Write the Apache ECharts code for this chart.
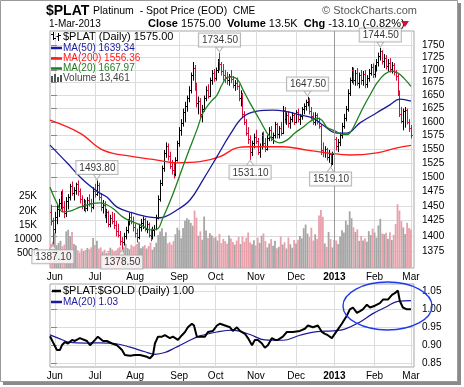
<!DOCTYPE html>
<html><head><meta charset="utf-8">
<script src="https://cdn.jsdelivr.net/npm/echarts@6/dist/echarts.min.js"></script>
<style>html,body{margin:0;padding:0;background:#fff;}#c{width:464px;height:387px;}</style>
</head><body><div id="c"></div>
<script>
// ---------- axis ticks ----------
const monthTicks = [2, 23, 44, 67, 86, 107, 128, 148, 169, 188];
const monthLabels = ['Jun','Jul','Aug','Sep','Oct','Nov','Dec','2013','Feb','Mar'];
const priceTicks = [1375,1400,1425,1450,1475,1500,1525,1550,1575,1600,1625,1650,1675,1700,1725,1750];
const volumeTicks = [5, 10, 15, 20, 25];               // thousands
const volumeTickLabels = ['5000','10000','15K','20K','25K'];
const ratioTicks = [0.85, 0.90, 0.95, 1.00, 1.05];

// ---------- daily OHLC (30-May-2012 .. 1-Mar-2013) ----------
const open = [
1440,1425,1412,1432,1445,1455,1468,1448,1438,1458,1465,1485,1472,1478,1488,1475,1462,1450,1455,1446,1460,1455,1448,
1476,1470,1486,1465,1448,1452,1435,1440,1420,1430,1425,1418,1408,1402,1392,1390,1400,1410,1422,1432,1425,
1415,1405,1398,1415,1422,1428,1412,1420,1402,1400,1410,1412,1430,1462,1490,1515,1542,1555,1538,1520,1512,1505,1530,
1560,1585,1598,1618,1630,1645,1660,1690,1705,1665,1635,1640,1615,1625,1645,1660,1650,1680,1695,
1685,1700,1718,1712,1698,1690,1685,1680,1688,1682,1670,1675,1668,1645,1652,1615,1600,1580,1568,1545,1560,
1572,1565,1545,1555,1575,1560,1550,1570,1585,1572,1575,1595,1578,1588,1580,1622,1605,1612,1598,1605,1612,
1600,1618,1605,1610,1625,1630,1638,1642,1620,1610,1600,1612,1602,1592,1548,1545,1550,1536,1540,1525,
1540,1568,1555,1562,1575,1592,1608,1625,1655,1680,1700,1680,1695,1675,1690,1680,1692,1672,1685,1695,1706,
1692,1705,1716,1728,1738,1718,1725,1708,1715,1702,1710,1696,1688,1655,1615,1602,1620,1622,1600,1588.1];
const high = [
1452,1430,1440,1452,1462,1475,1478,1458,1465,1470,1488,1492,1482,1490,1494,1480,1468,1462,1460,1465,1470,1462,1482,
1488,1493.8,1490,1472,1460,1458,1445,1442,1435,1440,1438,1425,1420,1408,1398,1405,1415,1428,1438,1440,1432,
1420,1412,1420,1428,1432,1430,1425,1422,1412,1415,1418,1435,1468,1495,1520,1548,1562,1560,1545,1530,1525,1535,1565,
1590,1605,1625,1638,1650,1668,1695,1716,1710,1675,1648,1645,1632,1650,1668,1672,1685,1700,1702,
1705,1722,1734.5,1716,1712,1700,1696,1692,1700,1688,1680,1685,1672,1660,1655,1620,1605,1590,1575,1565,1578,
1585,1570,1560,1580,1582,1570,1575,1590,1592,1580,1600,1598,1592,1600,1630,1628,1618,1620,1610,1618,1615,
1622,1625,1615,1628,1635,1642,1647.5,1645,1628,1618,1618,1616,1608,1595,1562,1555,1552,1548,1542,1545,
1575,1572,1568,1580,1598,1615,1630,1662,1685,1706,1705,1700,1704,1695,1700,1698,1700,1690,1702,1712,1713,
1710,1722,1735,1744.5,1740,1732,1730,1722,1724,1716,1714,1700,1692,1660,1628,1625,1628,1625,1605,1594];
const low = [
1418,1387.1,1405,1420,1432,1445,1440,1430,1432,1445,1460,1468,1460,1470,1468,1455,1445,1442,1440,1442,1450,1440,1445,
1465,1468,1460,1442,1438,1430,1422,1415,1415,1420,1412,1400,1398,1385,1378.5,1385,1395,1405,1418,1420,1408,
1398,1390,1395,1408,1412,1408,1405,1398,1392,1395,1400,1410,1428,1458,1485,1510,1535,1530,1515,1505,1498,1502,1528,
1555,1575,1592,1600,1620,1638,1655,1680,1660,1628,1615,1608,1600,1620,1640,1645,1648,1672,1678,
1680,1695,1700,1690,1680,1675,1672,1670,1675,1665,1660,1662,1640,1630,1610,1595,1575,1560,1531.1,1538,1552,
1560,1540,1535,1550,1555,1545,1548,1565,1565,1560,1570,1570,1570,1575,1578,1598,1595,1590,1588,1600,1595,
1598,1600,1595,1605,1615,1622,1630,1615,1605,1595,1594,1596,1588,1540,1536,1535,1530,1526,1519.1,1522,
1538,1548,1545,1556,1570,1588,1602,1620,1650,1675,1672,1670,1670,1665,1672,1670,1665,1666,1678,1690,1685,
1686,1698,1708,1720,1712,1705,1702,1698,1696,1694,1690,1680,1650,1610,1598,1585,1590,1596,1582,1570];
const close = [
1425,1412,1432,1445,1455,1468,1448,1438,1458,1465,1485,1472,1478,1488,1475,1462,1450,1455,1446,1460,1455,1448,1476,
1470,1486,1465,1448,1452,1435,1440,1420,1430,1425,1418,1408,1402,1392,1390,1400,1410,1422,1432,1425,1415,
1405,1398,1415,1422,1428,1412,1420,1402,1400,1410,1412,1430,1462,1490,1515,1542,1555,1538,1520,1512,1505,1530,1560,
1585,1598,1618,1630,1645,1660,1690,1705,1665,1635,1640,1615,1625,1645,1660,1650,1680,1695,1685,
1700,1718,1712,1698,1690,1685,1680,1688,1682,1670,1675,1668,1645,1652,1615,1600,1580,1568,1545,1560,1572,
1565,1545,1555,1575,1560,1550,1570,1585,1572,1575,1595,1578,1588,1580,1622,1605,1612,1598,1605,1612,1600,
1618,1605,1610,1625,1630,1638,1642,1620,1610,1600,1612,1602,1592,1548,1545,1550,1536,1540,1525,1540,
1568,1555,1562,1575,1592,1608,1625,1655,1680,1700,1680,1695,1675,1690,1680,1692,1672,1685,1695,1706,1692,
1705,1716,1728,1738,1718,1725,1708,1715,1702,1710,1696,1688,1655,1615,1602,1620,1622,1600,1588.1,1575];
// volume, thousands
const volume = [
8.5,9.2,12.4,8.0,8.8,9.5,7.6,8.2,12.8,13.4,11.2,12.6,8.4,7.9,6.2,5.4,6.8,5.9,6.3,7.0,6.6,7.2,10.5,
8.0,9.5,6.8,7.2,5.6,6.4,5.2,6.0,7.1,6.5,5.8,6.2,6.9,7.4,6.1,7.2,8.5,7.0,6.6,8.1,7.5,
7.8,8.4,9.2,6.9,7.5,8.0,6.8,7.7,8.9,6.4,7.3,8.8,11.5,12.8,13.9,11.2,12.5,8.6,9.0,8.2,9.4,11.8,14.1,
13.2,10.4,14.0,16.5,17.4,16.9,15.8,14.8,20.1,17.6,11.3,12.8,9.9,18.0,13.1,10.5,12.2,11.4,10.6,
10.8,9.6,11.9,8.7,10.2,9.4,8.5,11.4,10.3,9.1,8.2,9.6,10.9,8.4,11.0,9.2,10.6,12.4,9.0,8.3,9.7,
7.9,10.6,8.8,11.3,12.1,9.4,7.2,8.6,10.1,7.8,9.5,6.9,7.4,11.0,8.2,9.0,6.8,10.7,8.3,7.1,9.8,
8.6,9.9,11.2,10.4,13.9,15.2,12.0,10.8,14.1,9.6,11.8,10.2,18.4,20.3,17.9,8.6,7.4,12.6,10.1,7.2,
9.8,9.6,8.4,11.0,13.2,12.4,16.5,15.1,19.8,17.4,14.2,12.6,13.5,9.5,11.2,9.6,10.4,9.2,12.9,11.5,13.8,
12.4,10.6,14.9,17.2,12.1,11.8,12.3,10.2,12.5,9.8,11.6,15.4,22.3,20.1,16.4,14.2,11.9,15.8,14.0,13.461];

// ---------- moving averages: [dayIndex, value] ----------
const ma20 = [[-0.5,1482],[3.1,1455],[6.3,1440],[9.9,1441],[15.1,1448],[20.4,1453],[25.6,1455],[29.2,1452],[33.4,1443],[37.6,1431],[42.8,1423],[48.0,1416],[51.7,1410],[55.4,1411],[58.5,1430],[62.1,1457],[65.8,1489],[68.9,1518],[72.6,1552],[76.2,1585],[79.4,1617],[83.0,1636],[86.7,1651],[89.3,1671],[92.4,1686],[95.0,1686],[97.7,1680],[100.3,1661],[103.9,1636],[109.1,1603],[114.4,1572],[119.6,1561],[123.2,1566],[127.4,1579],[131.6,1590],[135.2,1600],[138.9,1607],[141.5,1603],[144.1,1590],[148.3,1583],[151.9,1577],[154.6,1576],[157.2,1585],[159.8,1603],[162.9,1626],[166.6,1651],[170.2,1674],[174.4,1692],[178.1,1698],[181.2,1694],[184.3,1684],[188,1667.97]];
const ma50 = [[-0.5,1557],[8.4,1525],[16.7,1495],[24.5,1474],[29.2,1465],[34.5,1448],[42.8,1438],[51.7,1431],[57.0,1430],[65.8,1443],[72.6,1460],[79.4,1495],[86.7,1536],[93.5,1576],[100.3,1609],[107.6,1620],[115.9,1622],[123.2,1619],[130.0,1613],[136.8,1607],[142.0,1594],[149.3,1579],[154.6,1579],[161.4,1598],[170.2,1617],[177.0,1632],[182.2,1643],[188,1639.34]];
const ma200 = [[-0.5,1603],[15.1,1579],[27.2,1548],[42.8,1536],[55.4,1530],[65.8,1525],[77.8,1527],[88.3,1536],[97.1,1552],[103.9,1554],[121.1,1554],[133.7,1548],[144.1,1543],[156.1,1539],[170.2,1543],[180.7,1552],[188,1556.36]];

// ---------- swing labels ----------
const peakIdx = [24, 88, 134, 172];
const peakVal = [1493.8, 1734.5, 1647.5, 1744.5];
const troughIdx = [1, 37, 104, 146];
const troughVal = [1387.1, 1378.5, 1531.1, 1519.1];

// ---------- $PLAT:$GOLD ratio and its MA(20): [dayIndex, value] ----------
const ratio = [[-0.5,0.925],[1.0,0.909],[3.1,0.887],[4.7,0.887],[5.7,0.900],[7.3,0.909],[8.9,0.905],[11.0,0.915],[12.5,0.912],[15.1,0.920],[18.8,0.912],[20.4,0.900],[23.0,0.915],[24.5,0.924],[27.2,0.912],[29.2,0.912],[31.9,0.905],[34.5,0.900],[37.1,0.887],[38.6,0.873],[41.3,0.871],[43.9,0.873],[46.5,0.873],[50.1,0.868],[51.7,0.864],[53.3,0.873],[54.3,0.905],[55.9,0.924],[58.0,0.924],[59.5,0.928],[62.1,0.920],[63.7,0.924],[66.3,0.915],[68.4,0.928],[70.0,0.937],[71.5,0.950],[73.6,0.960],[74.7,0.955],[76.2,0.924],[77.8,0.924],[80.4,0.924],[82.0,0.937],[84.6,0.940],[86.7,0.955],[88.3,0.960],[90.9,0.955],[93.5,0.950],[95.0,0.940],[97.1,0.950],[98.7,0.940],[101.3,0.932],[102.9,0.920],[105.0,0.900],[106.5,0.915],[108.1,0.915],[110.2,0.905],[111.7,0.893],[113.3,0.900],[115.4,0.920],[117.0,0.915],[118.5,0.915],[121.1,0.924],[123.2,0.937],[126.4,0.937],[130.0,0.940],[132.6,0.946],[134.2,0.955],[136.8,0.950],[139.4,0.955],[141.5,0.937],[143.1,0.932],[144.6,0.928],[146.7,0.920],[149.3,0.940],[151.9,0.960],[154.6,0.983],[156.1,1.000],[157.7,1.005],[159.8,0.990],[161.4,0.995],[162.9,1.000],[165.0,1.013],[166.6,1.005],[169.2,1.010],[171.8,1.017],[173.4,1.027],[176.0,1.027],[178.1,1.040],[179.6,1.045],[181.2,1.052],[182.2,1.023],[183.8,1.005],[185.9,1.000],[188,1.000]];
const ratioMa20 = [[-0.5,0.929],[4.7,0.918],[9.9,0.908],[17.8,0.906],[25.6,0.907],[33.4,0.905],[41.3,0.895],[49.1,0.882],[54.3,0.875],[59.5,0.880],[64.8,0.893],[71.0,0.910],[77.8,0.926],[86.7,0.937],[95.0,0.942],[103.9,0.930],[111.7,0.915],[121.1,0.914],[130.0,0.928],[138.9,0.938],[147.3,0.940],[153.5,0.945],[161.4,0.965],[168.1,0.988],[175.5,1.008],[181.2,1.022],[188,1.024]];

// ---------- rendering ----------
const FONT = '"Liberation Sans", Arial, Helvetica, sans-serif';
const RED = '#d50f3a';
const NAVY = '#1a1a9a';
const GREEN = '#1f7f1f';
const MARED = '#ff1a1a';
const GRID = '#dcdcdc';
const isDown = i => (i > 0 ? close[i] < close[i-1] : close[i] < open[i]);
const LN = Math.log;

const ohlcData = close.map((c, i) => [i, LN(open[i]), LN(high[i]), LN(low[i]), LN(c), isDown(i) ? 1 : 0]);
const volData = volume.map((v, i) => ({ value: [i, v], itemStyle: { color: isDown(i) ? '#eaa0ab' : '#a6a6a6' } }));
const lnPairs = arr => arr.map(p => [p[0], LN(p[1])]);

function renderOHLC(params, api) {
  const x = api.value(0);
  const o = api.coord([x, api.value(1)]);
  const h = api.coord([x, api.value(2)]);
  const l = api.coord([x, api.value(3)]);
  const c = api.coord([x, api.value(4)]);
  const color = api.value(5) ? RED : '#000';
  const px = Math.round(h[0]) + 0.5;
  const st = { stroke: color, lineWidth: 1 };
  return { type: 'group', children: [
    { type: 'line', shape: { x1: px, y1: h[1], x2: px, y2: l[1] + 0.5 }, style: st },
    { type: 'line', shape: { x1: px - 1.5, y1: Math.round(o[1]) + 0.5, x2: px, y2: Math.round(o[1]) + 0.5 }, style: st },
    { type: 'line', shape: { x1: px, y1: Math.round(c[1]) + 0.5, x2: px + 1.5, y2: Math.round(c[1]) + 0.5 }, style: st }
  ]};
}

const monthFmt = v => {
  const k = monthTicks.indexOf(Math.round(v));
  const s = k >= 0 ? monthLabels[k] : '';
  return s === '2013' ? '{b|2013}' : s;
};
const xAxisBase = (gi) => ({
  type: 'value', gridIndex: gi, min: -0.5, max: 189.6,
  axisLine: { show: false },
  axisTick: { show: false, customValues: monthTicks },
  axisLabel: { customValues: monthTicks, formatter: monthFmt, fontSize: 10, color: '#000', margin: 4, fontFamily: FONT,
               rich: { b: { fontWeight: 'bold', fontSize: 10, fontFamily: FONT, color: '#000' } } },
  splitLine: { show: true, lineStyle: { color: GRID, width: 1 } }
});
const lnTicks = priceTicks.map(LN);

const labelStyle = (pos) => ({
  show: true, position: pos, distance: 0, fontSize: 10, fontFamily: FONT, color: '#000',
  backgroundColor: '#fff', borderColor: '#a8a8a8', borderWidth: 1, padding: [2, 2, 1, 3]
});

const txt = (x, y, text, font, fill, extra) => Object.assign({
  type: 'text', x: x, y: y, z: 50,
  style: Object.assign({ text: text, font: font, fill: fill || '#000', align: 'left', verticalAlign: 'middle' }, extra || {})
});
const seg = (x1, y1, x2, y2, color, w) => ({ type: 'line', z: 50, shape: { x1, y1, x2, y2 }, style: { stroke: color, lineWidth: w || 1 } });

const graphics = [
  // frame + shadow
  { type: 'rect', z: -2, shape: { x: 3, y: 3, width: 458, height: 382 }, style: { fill: '#8a8a8a' } },
  { type: 'rect', z: -1, shape: { x: 0.5, y: 0.5, width: 457, height: 381 }, style: { fill: '#fff', stroke: '#9a9a9a', lineWidth: 1 } },
  // header
  txt(46, 11, '$PLAT', 'bold 14px ' + FONT),
  txt(93, 11, 'Platinum  - Spot Price (EOD)', '10.5px ' + FONT),
  txt(233, 11, 'CME', '10px ' + FONT),
  txt(417, 11, '\u00a9 StockCharts.com', '11px ' + FONT, '#555', { align: 'right' }),
  txt(49, 24, '1-Mar-2013', '10px ' + FONT),
  { type: 'text', x: 148, y: 24, z: 50, style: {
      text: '{b|Close} 1575.00  {b|Volume} 13.5K  {b|Chg} -13.10 (-0.82%)',
      font: '11px ' + FONT, fill: '#000', verticalAlign: 'middle',
      rich: { b: { font: 'bold 11px ' + FONT, fill: '#000' } } } },
  { type: 'polygon', z: 50, shape: { points: [[401, 21], [409, 21], [405, 27]] }, style: { fill: RED } },
  // main legend
  seg(53.5, 32, 53.5, 40, '#000'), seg(51, 34.5, 53.5, 34.5, '#000'), seg(53.5, 38.5, 56, 38.5, '#000'),
  seg(58.5, 33, 58.5, 41, '#000'), seg(56.5, 36.5, 58.5, 36.5, '#000'), seg(58.5, 35.5, 61, 35.5, '#000'),
  txt(63, 36.5, '$PLAT (Daily) 1575.00', '11px ' + FONT),
  seg(51, 48, 62, 48, NAVY, 2.5), txt(63, 48, 'MA(50) 1639.34', '10px ' + FONT, NAVY),
  seg(51, 58.5, 62, 58.5, MARED, 2.5), txt(63, 58.5, 'MA(200) 1556.36', '10px ' + FONT, MARED),
  seg(51, 68.5, 62, 68.5, GREEN, 2.5), txt(63, 68.5, 'MA(20) 1667.97', '10px ' + FONT, GREEN),
  { type: 'rect', z: 50, shape: { x: 51, y: 76, width: 2, height: 6 }, style: { fill: '#555' } },
  { type: 'rect', z: 50, shape: { x: 54, y: 74, width: 2, height: 8 }, style: { fill: '#555' } },
  { type: 'rect', z: 50, shape: { x: 57, y: 77, width: 2, height: 5 }, style: { fill: '#555' } },
  { type: 'rect', z: 50, shape: { x: 60, y: 75, width: 2, height: 7 }, style: { fill: '#555' } },
  txt(63, 78.5, 'Volume 13,461', '10px ' + FONT, '#444'),
  // lower legend
  seg(52, 291, 61, 291, '#000', 2.5), txt(63, 291, '$PLAT:$GOLD (Daily) 1.00', '11px ' + FONT),
  seg(51, 302, 62, 302, NAVY, 2.5), txt(63, 302, 'MA(20) 1.03', '10px ' + FONT, NAVY),
  // annotation ellipse
  { type: 'ellipse', z: 60, shape: { cx: 387.5, cy: 306, rx: 44.5, ry: 24 }, style: { fill: null, stroke: '#1f3be8', lineWidth: 1.4 } }
];

const option = {
  animation: false,
  backgroundColor: 'transparent',
  textStyle: { fontFamily: FONT },
  graphic: { elements: graphics },
  grid: [
    { left: 50, top: 31, width: 364, height: 237, show: true, borderColor: '#a5a5a5', borderWidth: 1, backgroundColor: 'transparent' },
    { left: 50, top: 284, width: 364, height: 83, show: true, borderColor: '#a5a5a5', borderWidth: 1, backgroundColor: 'transparent' }
  ],
  xAxis: [xAxisBase(0), xAxisBase(1)],
  yAxis: [
    { type: 'value', gridIndex: 0, position: 'right', min: LN(1348.3), max: LN(1779.5),
      axisLine: { show: false },
      axisTick: { show: true, length: 6, customValues: lnTicks, lineStyle: { color: '#888' } },
      axisLabel: { customValues: lnTicks, formatter: v => String(Math.round(Math.exp(v))), fontSize: 10, color: '#000', margin: 8, fontFamily: FONT },
      splitLine: { show: true, lineStyle: { color: GRID, width: 1 } } },
    { type: 'value', gridIndex: 0, position: 'left', min: 0, max: 82.87,
      axisLine: { show: false },
      axisTick: { show: false, customValues: volumeTicks },
      axisLabel: { customValues: volumeTicks, formatter: v => volumeTickLabels[volumeTicks.indexOf(Math.round(v))] || '',
                   align: 'center', margin: 22, fontSize: 10, color: '#000', fontFamily: FONT },
      splitLine: { show: false } },
    { type: 'value', gridIndex: 1, position: 'right', min: 0.8397, max: 1.0703,
      axisLine: { show: false },
      axisTick: { show: true, length: 6, customValues: ratioTicks, lineStyle: { color: '#888' } },
      axisLabel: { customValues: ratioTicks, formatter: v => v.toFixed(2), fontSize: 10, color: '#000', margin: 8, fontFamily: FONT },
      splitLine: { show: true, lineStyle: { color: GRID, width: 1 } } }
  ],
  series: [
    { type: 'bar', name: 'Volume', xAxisIndex: 0, yAxisIndex: 1, data: volData, barWidth: 1.8, z: 1,
      markLine: { silent: true, symbol: 'none', label: { show: false }, lineStyle: { color: '#9a9a9a', width: 1, type: 'solid' }, data: [{ xAxis: monthTicks[7] }] } },
    { type: 'custom', name: '$PLAT', xAxisIndex: 0, yAxisIndex: 0, data: ohlcData, renderItem: renderOHLC,
      encode: { x: 0, y: [1, 2, 3, 4] }, clip: true, z: 3 },
    { type: 'line', name: 'MA(200)', xAxisIndex: 0, yAxisIndex: 0, data: lnPairs(ma200), smooth: 0.4, showSymbol: false,
      lineStyle: { color: MARED, width: 1.3 }, z: 4 },
    { type: 'line', name: 'MA(50)', xAxisIndex: 0, yAxisIndex: 0, data: lnPairs(ma50), smooth: 0.4, showSymbol: false,
      lineStyle: { color: NAVY, width: 1.3 }, z: 4 },
    { type: 'line', name: 'MA(20)', xAxisIndex: 0, yAxisIndex: 0, data: lnPairs(ma20), smooth: 0.4, showSymbol: false,
      lineStyle: { color: GREEN, width: 1.3 }, z: 4 },
    { type: 'scatter', name: 'peaks', xAxisIndex: 0, yAxisIndex: 0, z: 10,
      data: peakIdx.map((d, k) => [d, LN(peakVal[k])]),
      symbol: 'triangle', symbolSize: [7, 5], symbolRotate: 180, symbolOffset: [0, -3.5],
      itemStyle: { color: '#fff', borderColor: '#a8a8a8', borderWidth: 1 },
      label: Object.assign(labelStyle('top'), { formatter: p => peakVal[p.dataIndex].toFixed(2) }) },
    { type: 'scatter', name: 'troughs', xAxisIndex: 0, yAxisIndex: 0, z: 10,
      data: troughIdx.map((d, k) => [d, LN(troughVal[k])]),
      symbol: 'triangle', symbolSize: [7, 5], symbolOffset: [0, 3.5],
      itemStyle: { color: '#fff', borderColor: '#a8a8a8', borderWidth: 1 },
      label: Object.assign(labelStyle('bottom'), { formatter: p => troughVal[p.dataIndex].toFixed(2) }) },
    { type: 'line', name: 'MA(20) ratio', xAxisIndex: 1, yAxisIndex: 2, data: ratioMa20, smooth: 0.4, showSymbol: false,
      lineStyle: { color: NAVY, width: 1.2 }, z: 3 },
    { type: 'line', name: '$PLAT:$GOLD', xAxisIndex: 1, yAxisIndex: 2, data: ratio, showSymbol: false,
      lineStyle: { color: '#000', width: 2 }, z: 4 }
  ]
};

const chart = echarts.init(document.getElementById('c'), null, { renderer: 'canvas' });
chart.setOption(option);
</script></body></html>
